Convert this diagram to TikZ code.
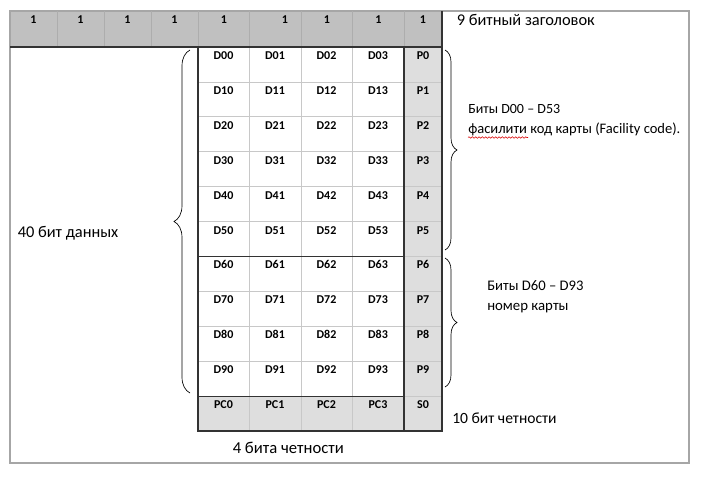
\documentclass[tikz,border=0pt]{standalone}
\usepackage{fontspec}
\setmainfont{Carlito}
\usetikzlibrary{decorations.pathreplacing,decorations.pathmorphing}
\definecolor{headgray}{HTML}{C0C0C0}
\definecolor{lightfill}{HTML}{DEDEDE}
\definecolor{framegray}{HTML}{A6A6A6}
\definecolor{gridgray}{HTML}{C8C8C8}
\definecolor{headline}{HTML}{ADADAD}
\definecolor{darkline}{HTML}{333333}
\begin{document}
\begin{tikzpicture}[x=0.75pt,y=-0.75pt,
  celltext/.style={font=\bfseries\fontsize{9}{10}\selectfont, anchor=base, inner sep=0pt},
  lbl/.style={anchor=base west, inner sep=0pt},
  thinline/.style={draw=gridgray, line width=0.6pt},
  headsep/.style={draw=headline, line width=0.6pt},
  heavyline/.style={draw=darkline, line width=0.9pt},
  bracestyle/.style={decorate, line width=0.5pt, draw=black}]
\useasboundingbox (0,0) rectangle (702,476);
% fills
\fill[headgray] (10,11) rectangle (442,47);
\fill[lightfill] (404,47) rectangle (442,431);
\fill[lightfill] (198,396) rectangle (404,431);
% outer frame
\draw[framegray, line width=0.8pt] (10,11) rectangle (689,463);
% header separators
\foreach \x in {57,104,151,198,249.5,301,352.5,404}
  \draw[headsep] (\x,11) -- (\x,47);
% data grid thin lines
\foreach \x in {249.5,301,352.5}
  \draw[thinline] (\x,47) -- (\x,431);
\foreach \k in {1,2,3,4,5,7,8,9}
  \draw[thinline] (198,47+34.91*\k) -- (442,47+34.91*\k);
\draw[thinline] (404,256.5) -- (442,256.5);
\draw[thinline] (404,396.1) -- (442,396.1);
% heavy lines
\draw[heavyline] (10,47) -- (442,47);
\draw[heavyline] (198,47) -- (198,431) -- (442,431) -- (442,11);
\draw[heavyline] (404,47) -- (404,431);
\draw[heavyline] (198,256.5) -- (404,256.5);
\draw[heavyline] (198,396.1) -- (404,396.1);
% header bits
\node[celltext] (h1) at (33.5,23.5) {1};
\node[celltext] (h2) at (80.5,23.5) {1};
\node[celltext] (h3) at (127.5,23.5) {1};
\node[celltext] (h4) at (174.5,23.5) {1};
\node[celltext] (h5) at (224,23.5) {1};
\node[celltext] (h6) at (285,23.5) {1};
\node[celltext] (h7) at (327,23.5) {1};
\node[celltext] (h8) at (378.5,23.5) {1};
\node[celltext] (h9) at (423,23.5) {1};
% data cells
\foreach \r in {0,...,9} {
  \foreach \c/\xc in {0/223.5,1/275,2/326.5,3/378} {
    \node[celltext] (d\r\c) at (\xc,47+34.91*\r+12.5) {D\r\c};
  }
  \node[celltext] (p\r) at (423,47+34.91*\r+12.5) {P\r};
}
\foreach \c/\xc in {0/223.5,1/275,2/326.5,3/378}
  \node[celltext] (pc\c) at (\xc,396.1+12.5) {PC\c};
\node[celltext] (s0) at (423,396.1+12.5) {S0};
% labels
\node[lbl, font=\fontsize{12.3}{14}\selectfont] (hdr) at (456.5,25.7) {9 битный заголовок};
\node[lbl, font=\fontsize{12.3}{14}\selectfont] (data) at (17.5,237) {40 бит данных};
\node[lbl, font=\fontsize{10.5}{13}\selectfont] (fc1) at (468,113) {Биты D00 – D53};
\node[lbl, font=\fontsize{10.9}{13}\selectfont] (fc2) at (468,133) {фасилити код карты (Facility code).};
\node[lbl, font=\fontsize{11}{13}\selectfont] (num1) at (487,290) {Биты D60 – D93};
\node[lbl, font=\fontsize{11.1}{13}\selectfont] (num2) at (487,310) {номер карты};
\node[lbl, font=\fontsize{11.7}{14}\selectfont] (par10) at (452,423) {10 бит четности};
\node[lbl, font=\fontsize{12.5}{14}\selectfont] (par4) at (232.5,453) {4 бита четности};
% spell-check underline
\draw[red!85!black, line width=0.4pt, decorate, decoration={snake, amplitude=0.6pt, segment length=2.5pt}] (468,137.5) -- (528,137.5);
% braces
\coordinate (lb1) at (190,393);
\coordinate (lb2) at (190,50);
\draw[bracestyle, decoration={brace, amplitude=12pt}] (lb1) -- (lb2);
\coordinate (rb1) at (445,50);
\coordinate (rb2) at (445,250);
\draw[bracestyle, decoration={brace, amplitude=9pt}] (rb1) -- (rb2);
\coordinate (rb3) at (445,258);
\coordinate (rb4) at (445,387);
\draw[bracestyle, decoration={brace, amplitude=9pt}] (rb3) -- (rb4);
\end{tikzpicture}
\end{document}
